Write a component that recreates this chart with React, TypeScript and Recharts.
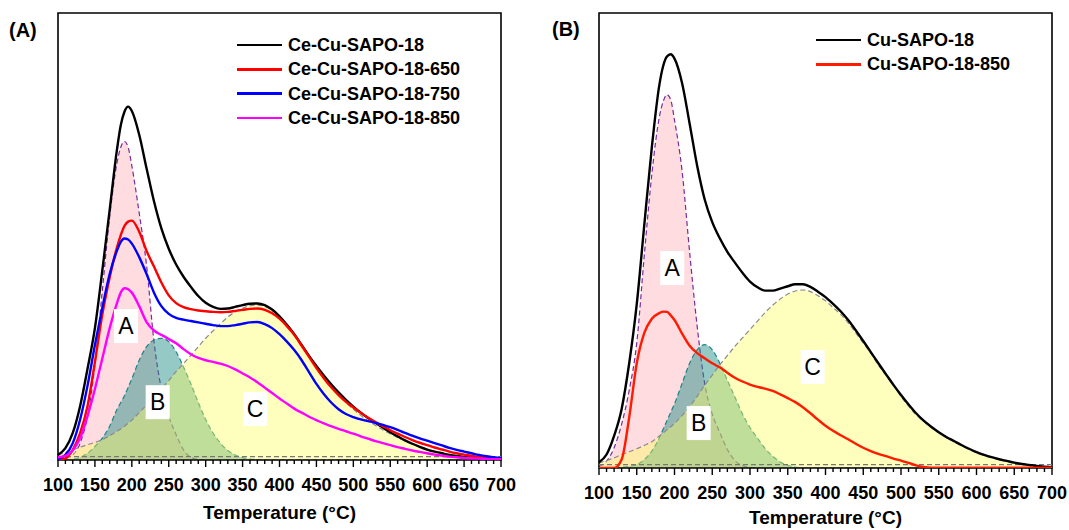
import { ComposedChart, Line, Area, XAxis, YAxis, ReferenceArea, ReferenceLine, ReferenceDot, Legend, Label } from 'recharts'

// temperature grid (°C) shared by every curve
const temps = [100, 110, 120, 130, 140, 150, 160, 170, 180, 185, 190, 195, 200, 210, 220, 230, 240, 250, 260, 270, 280, 290, 300, 310, 320, 330, 340, 350, 360, 370, 380, 390, 400, 410, 420, 430, 440, 450, 460, 470, 480, 490, 500, 510, 520, 530, 540, 550, 560, 570, 580, 590, 600, 610, 620, 630, 640, 650, 660, 670, 680, 690, 700]

const xTicks = [100, 110, 120, 130, 140, 150, 160, 170, 180, 190, 200, 210, 220, 230, 240, 250, 260, 270, 280, 290, 300, 310, 320, 330, 340, 350, 360, 370, 380, 390, 400, 410, 420, 430, 440, 450, 460, 470, 480, 490, 500, 510, 520, 530, 540, 550, 560, 570, 580, 590, 600, 610, 620, 630, 640, 650, 660, 670, 680, 690, 700]

// panel (A)
const ceCu = [15, 35, 80, 160, 270, 390, 560, 740, 920, 990, 1030, 1045, 1032, 962, 862, 765, 685, 625, 578, 542, 512, 485, 465, 453, 447, 448, 453, 458, 462, 463, 458, 445, 425, 400, 372, 340, 308, 278, 250, 224, 200, 178, 158, 140, 124, 110, 96, 82, 70, 58, 48, 39, 31, 25, 20, 15, 12, 9, 7, 5, 4, 3, 2]
const ceCu650 = [0, 5, 30, 80, 160, 290, 430, 540, 630, 665, 692, 705, 708, 675, 618, 572, 525, 487, 464, 452, 446, 442, 440, 438, 437, 438, 441, 444, 447, 448, 444, 434, 418, 396, 370, 338, 305, 272, 242, 215, 192, 172, 155, 140, 125, 112, 100, 88, 78, 68, 59, 51, 44, 37, 31, 25, 20, 16, 12, 9, 6, 4, 3]
const ceCu750 = [3, 15, 50, 120, 220, 340, 450, 550, 620, 645, 655, 652, 640, 600, 550, 495, 455, 432, 420, 415, 411, 407, 403, 399, 396, 396, 399, 403, 407, 408, 402, 390, 372, 350, 325, 295, 260, 225, 195, 170, 150, 136, 127, 120, 115, 110, 104, 97, 89, 80, 72, 64, 57, 50, 43, 36, 30, 25, 20, 15, 11, 8, 5]
const ceCu850 = [8, 12, 28, 65, 130, 210, 300, 390, 465, 495, 508, 505, 495, 455, 408, 383, 370, 358, 345, 328, 313, 302, 295, 290, 285, 278, 268, 256, 244, 230, 214, 198, 182, 167, 152, 140, 128, 118, 108, 100, 92, 85, 78, 70, 63, 56, 50, 44, 38, 33, 28, 24, 20, 16, 13, 10, 8, 6, 5, 4, 3, 2, 2]
const peakA_A = [0, 5, 15, 50, 130, 280, 500, 720, 880, 925, 942, 925, 870, 730, 575, 350, 210, 130, 75, 30, 8, 2, 0, 0, 0, 0, 0, 0, 0, 0, 0, 0, 0, 0, 0, 0, 0, 0, 0, 0, 0, 0, 0, 0, 0, 0, 0, 0, 0, 0, 0, 0, 0, 0, 0, 0, 0, 0, 0, 0, 0, 0, 0]
const peakB_A = [0, 0, 2, 8, 20, 40, 65, 100, 150, 170, 190, 215, 240, 295, 335, 355, 360, 350, 320, 275, 225, 170, 120, 80, 50, 28, 15, 7, 3, 1, 0, 0, 0, 0, 0, 0, 0, 0, 0, 0, 0, 0, 0, 0, 0, 0, 0, 0, 0, 0, 0, 0, 0, 0, 0, 0, 0, 0, 0, 0, 0, 0, 0]
const peakC_A = [15, 22, 30, 38, 45, 52, 60, 72, 85, 92, 100, 109, 118, 140, 163, 187, 210, 235, 262, 285, 310, 335, 360, 382, 403, 423, 438, 449, 456, 458, 454, 442, 425, 400, 372, 340, 306, 275, 245, 218, 193, 170, 150, 132, 116, 102, 89, 77, 66, 56, 47, 39, 32, 26, 21, 17, 13, 10, 7, 5, 4, 3, 2]

// panel (B)
const cu = [17, 40, 95, 175, 310, 485, 720, 950, 1135, 1190, 1218, 1225, 1212, 1140, 1020, 895, 795, 728, 680, 640, 608, 578, 552, 535, 525, 525, 531, 538, 544, 544, 536, 522, 506, 486, 464, 438, 408, 376, 343, 310, 278, 246, 216, 188, 162, 140, 122, 106, 92, 80, 68, 57, 47, 39, 32, 26, 21, 16, 12, 9, 6, 4, 2]
const cu850 = [0, 0, 0, 25, 150, 310, 400, 442, 459, 463, 462, 452, 438, 398, 362, 340, 325, 310, 298, 282, 267, 256, 247, 240, 235, 228, 218, 207, 195, 180, 162, 143, 125, 110, 97, 85, 72, 60, 50, 42, 35, 28, 22, 15, 8, 3, 1, 1, 1, 1, 1, 1, 1, 1, 1, 1, 1, 1, 1, 1, 1, 1, 1]
const peakA_B = [5, 20, 60, 130, 230, 370, 630, 870, 1040, 1085, 1105, 1090, 1030, 880, 640, 420, 250, 160, 105, 55, 22, 7, 2, 0, 0, 0, 0, 0, 0, 0, 0, 0, 0, 0, 0, 0, 0, 0, 0, 0, 0, 0, 0, 0, 0, 0, 0, 0, 0, 0, 0, 0, 0, 0, 0, 0, 0, 0, 0, 0, 0, 0, 0]
const peakB_B = [0, 0, 0, 2, 5, 10, 25, 50, 90, 115, 140, 165, 190, 250, 310, 350, 365, 350, 310, 260, 210, 160, 120, 88, 58, 35, 18, 8, 3, 0, 0, 0, 0, 0, 0, 0, 0, 0, 0, 0, 0, 0, 0, 0, 0, 0, 0, 0, 0, 0, 0, 0, 0, 0, 0, 0, 0, 0, 0, 0, 0, 0, 0]
const peakC_B = [15, 22, 30, 40, 48, 57, 67, 78, 95, 104, 113, 122, 132, 155, 182, 212, 245, 275, 305, 333, 360, 385, 410, 435, 460, 482, 500, 515, 524, 527, 522, 510, 495, 475, 455, 430, 400, 370, 340, 305, 275, 245, 212, 183, 158, 138, 120, 104, 90, 78, 66, 55, 45, 37, 30, 24, 19, 15, 11, 8, 5, 3, 2]

const seriesA = [
  { key: 's18', name: 'Ce-Cu-SAPO-18', color: '#000000', values: ceCu },
  { key: 's650', name: 'Ce-Cu-SAPO-18-650', color: '#ff0000', values: ceCu650 },
  { key: 's750', name: 'Ce-Cu-SAPO-18-750', color: '#0000ff', values: ceCu750 },
  { key: 's850', name: 'Ce-Cu-SAPO-18-850', color: '#ff00ff', values: ceCu850 },
]
const seriesB = [
  { key: 's18', name: 'Cu-SAPO-18', color: '#000000', values: cu },
  { key: 's850', name: 'Cu-SAPO-18-850', color: '#ff1a00', values: cu850 },
]

const peakLabelsA = [
  { text: 'A', t: 192, v: 396 },
  { text: 'B', t: 235, v: 171 },
  { text: 'C', t: 367, v: 151 },
]
const peakLabelsB = [
  { text: 'A', t: 197, v: 592 },
  { text: 'B', t: 232, v: 133 },
  { text: 'C', t: 383, v: 299 },
]

const FONT = '"Liberation Sans", Arial, Helvetica, sans-serif'

function buildRows(series: { key: string; values: number[] }[], a: number[], b: number[], c: number[]) {
  return temps.map((t, i) => {
    const row: Record<string, number> = { t, pa: a[i], pb: b[i], pc: c[i] }
    series.forEach((s) => { row[s.key] = s.values[i] })
    return row
  })
}

function TempTick(props: any) {
  const { x, y, payload } = props
  const major = payload.value % 50 === 0
  return (
    <g>
      <line x1={x} x2={x} y1={y} y2={y + (major ? 7 : 4)} stroke="#000" strokeWidth={1.4} />
      {major && (
        <text x={x} y={y + 31} textAnchor="middle" fontSize={18} fontWeight={700} fontFamily={FONT} fill="#000">
          {payload.value}
        </text>
      )}
    </g>
  )
}

function BoxLabel(props: any) {
  const { cx, cy, text } = props
  return (
    <g>
      <rect x={cx - 12} y={cy - 17} width={24} height={34} fill="#fff" />
      <text x={cx} y={cy + 8} textAnchor="middle" fontSize={23} fontFamily={FONT} fill="#000">{text}</text>
    </g>
  )
}

function LegendBox({ payload, names }: any) {
  const items = (payload || []).filter((p: any) => names.includes(p.value))
  return (
    <div style={{ fontFamily: FONT, fontWeight: 700, fontSize: 18, lineHeight: '24.3px' }}>
      {items.map((p: any) => (
        <div key={p.value} style={{ display: 'flex', alignItems: 'center', whiteSpace: 'nowrap' }}>
          <span style={{ display: 'inline-block', width: 45, height: 2.5, background: p.color, marginRight: 6 }} />
          <span>{p.value}</span>
        </div>
      ))}
    </div>
  )
}

interface PanelProps {
  rows: Record<string, number>[]
  series: { key: string; name: string; color: string }[]
  labels: { text: string; t: number; v: number }[]
  yMax: number
  width: number
  margin: { top: number; right: number; left: number; bottom: number }
  legendPos: { left: number; top: number }
  titleY: number
  yLabelX: number
  yLabelY: number
}

function Panel({ rows, series, labels, yMax, width, margin, legendPos, titleY, yLabelX, yLabelY }: PanelProps) {
  return (
    <ComposedChart width={width} height={530} data={rows} margin={margin}>
      <XAxis
        dataKey="t"
        type="number"
        domain={[100, 700]}
        ticks={xTicks}
        interval={0}
        tick={<TempTick />}
        tickLine={false}
        tickSize={0}
        tickMargin={0}
        axisLine={false}
        height={30}
      >
        <Label
          content={(p: any) => (
            <text x={p.viewBox.x + p.viewBox.width / 2} y={titleY} textAnchor="middle" fontSize={19} fontWeight={700} fontFamily={FONT} fill="#000">
              Temperature (°C)
            </text>
          )}
        />
      </XAxis>
      <YAxis type="number" domain={[0, yMax]} allowDataOverflow width={0} tick={false} tickLine={false} axisLine={false}>
        <Label
          content={() => (
            <text x={yLabelX} y={yLabelY} transform={`rotate(-90 ${yLabelX} ${yLabelY})`} textAnchor="middle" fontSize={19} fontWeight={700} fontFamily={FONT} fill="#000">
              Intensity (a.u.)
            </text>
          )}
        />
      </YAxis>
      <Area type="monotone" dataKey="pa" stroke="#7a2a9c" strokeWidth={1.2} strokeDasharray="5 3" fill="#ff9aa5" fillOpacity={0.35} isAnimationActive={false} legendType="none" dot={false} activeDot={false} />
      <Area type="monotone" dataKey="pb" stroke="#1a8585" strokeWidth={1.2} strokeDasharray="5 3" fill="#1f8f86" fillOpacity={0.48} isAnimationActive={false} legendType="none" dot={false} activeDot={false} />
      <Area type="monotone" dataKey="pc" stroke="#8a8a8a" strokeWidth={1.2} strokeDasharray="5 3" fill="#ffff5a" fillOpacity={0.4} isAnimationActive={false} legendType="none" dot={false} activeDot={false} />
      <ReferenceLine y={10} stroke="#777" strokeWidth={1.2} strokeDasharray="5 3" />
      {series.map((s) => (
        <Line key={s.key} type="monotone" dataKey={s.key} name={s.name} stroke={s.color} strokeWidth={2.4} dot={false} activeDot={false} isAnimationActive={false} />
      ))}
      {labels.map((l) => (
        <ReferenceDot key={l.text} x={l.t} y={l.v} r={0} shape={(p: any) => <BoxLabel {...p} text={l.text} />} />
      ))}
      <ReferenceArea x1={100} x2={700} y1={0} y2={yMax} fill="none" stroke="#000" strokeWidth={1.6} />
      <Legend
        layout="vertical"
        align="center"
        verticalAlign="middle"
        content={<LegendBox names={series.map((s) => s.name)} />}
        wrapperStyle={{ position: 'absolute', left: legendPos.left, top: legendPos.top, width: 'auto' }}
      />
    </ComposedChart>
  )
}

export default function App() {
  const rowsA = buildRows(seriesA, peakA_A, peakB_A, peakC_A)
  const rowsB = buildRows(seriesB, peakA_B, peakB_B, peakC_B)
  return (
    <div style={{ position: 'absolute', left: 0, top: 0, width: 1069, height: 530, background: '#fff', overflow: 'hidden' }}>
      <div style={{ position: 'absolute', left: 9, top: 19, fontFamily: FONT, fontWeight: 700, fontSize: 20 }}>(A)</div>
      <div style={{ position: 'absolute', left: 552, top: 18, fontFamily: FONT, fontWeight: 700, fontSize: 20 }}>(B)</div>
      <div style={{ position: 'absolute', left: 0, top: 0 }}>
        <Panel
          rows={rowsA}
          series={seriesA}
          labels={peakLabelsA}
          yMax={1322}
          width={520}
          margin={{ top: 13, right: 19, left: 58, bottom: 40 }}
          legendPos={{ left: 237, top: 33 }}
          titleY={519}
          yLabelX={29}
          yLabelY={215}
        />
      </div>
      <div style={{ position: 'absolute', left: 540, top: 0 }}>
        <Panel
          rows={rowsB}
          series={seriesB}
          labels={peakLabelsB}
          yMax={1347}
          width={529}
          margin={{ top: 13, right: 17, left: 59, bottom: 32 }}
          legendPos={{ left: 276, top: 28 }}
          titleY={524}
          yLabelX={38}
          yLabelY={220}
        />
      </div>
    </div>
  )
}
